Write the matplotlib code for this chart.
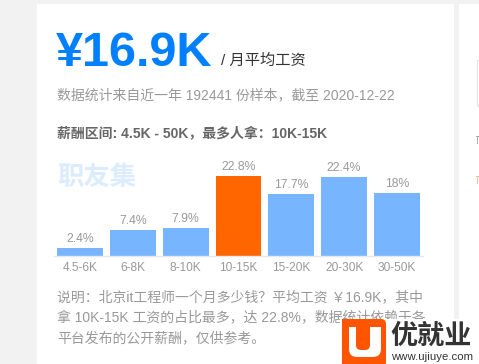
import matplotlib
matplotlib.use("Agg")
import matplotlib.pyplot as plt
from matplotlib.patches import Rectangle, FancyBboxPatch

plt.rcParams['font.family'] = ['Liberation Sans', 'Noto Sans CJK SC', 'DejaVu Sans']

# Salary distribution data
categories = ["4.5-6K", "6-8K", "8-10K", "10-15K", "15-20K", "20-30K", "30-50K"]
shares = [2.4, 7.4, 7.9, 22.8, 17.7, 22.4, 18.0]
top_category = "10-15K"

avg_salary = "¥16.9K"
avg_caption = "/ 月平均工资"
source_line = "数据统计来自近一年 192441 份样本，截至 2020-12-22"
range_line = "薪酬区间: 4.5K - 50K，最多人拿：10K-15K"
note_lines = [
    "说明：北京it工程师一个月多少钱？平均工资 ￥16.9K，其中",
    "拿 10K-15K 工资的占比最多，达 22.8%，数据统计依赖于各",
    "平台发布的公开薪酬，仅供参考。",
]

W, H = 479, 364
fig = plt.figure(figsize=(W / 100, H / 100), dpi=100, facecolor="#f2f2f2")

# Page layer in pixel coordinates (origin top-left)
bg = fig.add_axes([0, 0, 1, 1])
bg.set_xlim(0, W)
bg.set_ylim(H, 0)
bg.axis("off")

bg.add_patch(Rectangle((37, 4), 417, H - 4, facecolor="white", edgecolor="none"))
bg.add_patch(Rectangle((459, 4), 30, H - 4, facecolor="white", edgecolor="none"))
bg.add_patch(Rectangle((477, 60), 10, 46, facecolor="white", edgecolor="#e6e6e6", lw=0.8))
# Edges of glyphs from the neighbouring panel
bg.add_patch(Rectangle((476, 136), 3, 1, facecolor="#aaaaaa", edgecolor="none"))
bg.add_patch(Rectangle((477, 137), 1, 7, facecolor="#aaaaaa", edgecolor="none"))
bg.add_patch(Rectangle((476, 176), 3, 1, facecolor="#f0c090", edgecolor="none"))
bg.add_patch(Rectangle((477, 177), 1, 7, facecolor="#f0c090", edgecolor="none"))

# Headline figures
bg.text(56, 65.5, avg_salary, fontsize=35, fontweight="bold", color="#0080ff",
        va="baseline", ha="left")
bg.text(221, 65, avg_caption, fontsize=11, color="#333333", va="baseline", ha="left")
bg.text(57, 95, source_line, fontsize=10, color="#999999", va="center", ha="left")
bg.text(57, 133, range_line, fontsize=10, fontweight="bold", color="#666666",
        va="center", ha="left")

# Watermark
bg.text(57, 178, "职友集", fontsize=19, fontweight="bold", color="#dcecff",
        va="center", ha="left")

# Explanatory paragraph
for k, line in enumerate(note_lines):
    bg.text(57, 297 + 20.5 * k, line, fontsize=10, color="#999999",
            va="center", ha="left")

# Brand mark in the lower-right corner
bg.add_patch(Rectangle((340, 319), 139, 45, facecolor="white", edgecolor="none", zorder=5))
orange = "#ff5500"
bg.add_patch(FancyBboxPatch((342, 319), 44, 48, boxstyle="round,pad=0,rounding_size=5",
                            facecolor=orange, edgecolor="none", zorder=6))
bg.add_patch(Rectangle((342, 319), 30, 48, facecolor=orange, edgecolor="none", zorder=6))
bg.add_patch(FancyBboxPatch((349, 327), 32, 30, boxstyle="round,pad=0,rounding_size=8",
                            facecolor="white", edgecolor="none", zorder=7))
bg.add_patch(Rectangle((349, 327), 32, 12, facecolor="white", edgecolor="none", zorder=7))
bg.add_patch(FancyBboxPatch((356, 319), 14, 31, boxstyle="round,pad=0,rounding_size=5",
                            facecolor=orange, edgecolor="none", zorder=8))
bg.add_patch(Rectangle((356, 319), 14, 18, facecolor=orange, edgecolor="none", zorder=8))
bg.text(390, 337, "优就业", fontsize=19.5, fontweight="bold", color="#333333",
        va="center", ha="left", zorder=9)
bg.text(391, 357.5, "www.ujiuye.com", fontsize=8.2, color="#333333",
        va="center", ha="left", zorder=9)

# Bar chart
x0_px, base_px = 53.6, 256
slot_px = 52.83
px_per_pct = 3.52
ymax = 25
ax = fig.add_axes([x0_px / W, (H - base_px) / H, 7 * slot_px / W, ymax * px_per_pct / H])
ax.set_facecolor("none")
colors = ["#ff6600" if c == top_category else "#77b6ff" for c in categories]
xs = list(range(len(categories)))
ax.bar(xs, shares, width=0.87, color=colors, zorder=2)
ax.set_xlim(-0.5, len(categories) - 0.5)
ax.set_ylim(0, ymax)
for s in ["top", "right", "left"]:
    ax.spines[s].set_visible(False)
ax.spines["bottom"].set_color("#e8e8e8")
ax.spines["bottom"].set_linewidth(1)
ax.set_yticks([])
ax.set_xticks(xs)
ax.set_xticklabels(categories, fontsize=8.6, color="#999999")
ax.tick_params(axis="x", length=0, pad=4)
for x, v in zip(xs, shares):
    ax.annotate(f"{v:g}%", (x, v), xytext=(0, 2), textcoords="offset points",
                ha="center", va="bottom", fontsize=8.8, color="#999999")

fig.savefig("out.png", dpi=100, facecolor=fig.get_facecolor())
